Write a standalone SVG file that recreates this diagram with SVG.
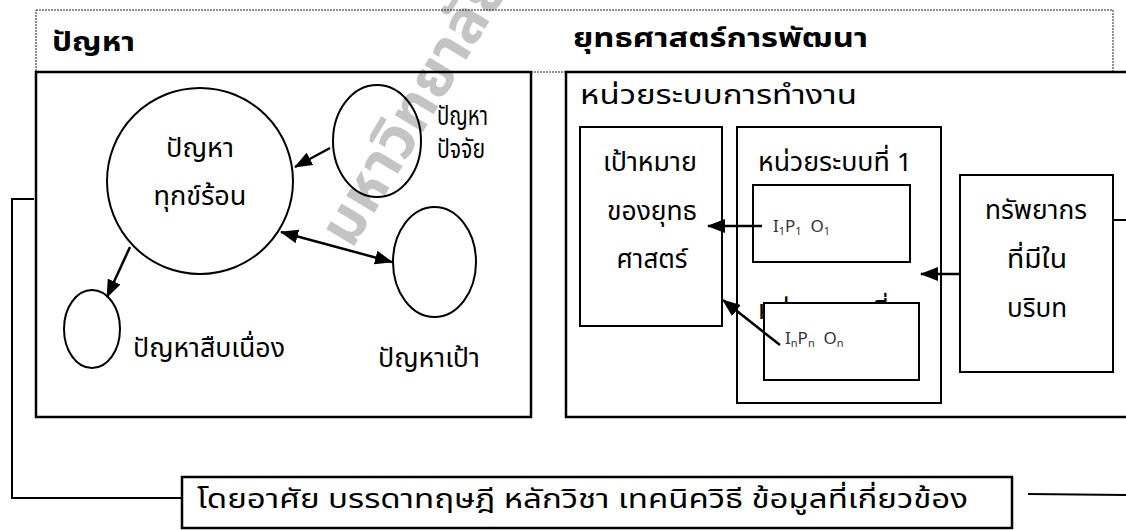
<svg xmlns="http://www.w3.org/2000/svg" width="1126" height="530" viewBox="0 0 1126 530">
<style>
text{font-family:'Noto Sans Thai','Noto Sans','DejaVu Sans',sans-serif;fill:#000}
.t{font-size:26px}
.b{font-size:27px;font-weight:bold}
.s{font-size:17px;fill:#333}
.sub{font-size:11px}
.box{fill:none;stroke:#000;stroke-width:2.5}
.ib{fill:none;stroke:#000;stroke-width:2}
.wb{fill:#fff;stroke:#000;stroke-width:2}
.el{fill:none;stroke:#000;stroke-width:2}
.ln{fill:none;stroke:#000;stroke-width:2}
.ar{fill:none;stroke:#000;stroke-width:2.5}
.wm{font-size:60px;font-weight:bold;fill:#c4c4c4}
</style>
<defs>
<marker id="ah" markerWidth="18" markerHeight="14" refX="17" refY="7" orient="auto" markerUnits="userSpaceOnUse"><path d="M0,0 L18,7 L0,14 Z" fill="#000"/></marker>
<marker id="as" markerWidth="18" markerHeight="14" refX="1" refY="7" orient="auto" markerUnits="userSpaceOnUse"><path d="M18,0 L0,7 L18,14 Z" fill="#000"/></marker>
</defs>
<rect width="1126" height="530" fill="#fff"/>
<text class="wm" transform="translate(352,250) rotate(-59)">มหาวิทยาลัย</text>

<g id="header">
<rect x="36" y="10" width="1077" height="62" fill="none" stroke="#222" stroke-width="1" stroke-dasharray="2 1"/>
<text class="b" x="52" y="51" textLength="83" lengthAdjust="spacingAndGlyphs">ปัญหา</text>
<text class="b" x="573" y="47" textLength="295" lengthAdjust="spacingAndGlyphs">ยุทธศาสตร์การพัฒนา</text>
</g>

<g id="problem-panel">
<rect class="box" x="36" y="72" width="495" height="345"/>
</g>
<g id="problem-core">
<circle class="el" cx="200" cy="181" r="93"/>
<text class="t" x="200" y="157" text-anchor="middle" textLength="68" lengthAdjust="spacingAndGlyphs">ปัญหา</text>
<text class="t" x="200" y="205" text-anchor="middle" textLength="93" lengthAdjust="spacingAndGlyphs">ทุกข์ร้อน</text>
</g>
<g id="problem-factor">
<ellipse class="el" cx="377" cy="141" rx="44" ry="56"/>
<text class="t" x="437" y="125" textLength="51" lengthAdjust="spacingAndGlyphs">ปัญหา</text>
<text class="t" x="437" y="158" textLength="48" lengthAdjust="spacingAndGlyphs">ปัจจัย</text>
</g>
<g id="problem-target">
<ellipse class="el" cx="434.5" cy="262" rx="41.5" ry="55"/>
<text class="t" x="378" y="367" textLength="102" lengthAdjust="spacingAndGlyphs">ปัญหาเป้า</text>
</g>
<g id="problem-continuing">
<ellipse class="el" cx="92" cy="329" rx="28" ry="39"/>
<text class="t" x="133" y="357" textLength="152" lengthAdjust="spacingAndGlyphs">ปัญหาสืบเนื่อง</text>
</g>

<g id="strategy-panel">
<rect class="box" x="566" y="72" width="570" height="345"/>
<text class="t" x="580" y="104" textLength="277" lengthAdjust="spacingAndGlyphs">หน่วยระบบการทำงาน</text>
</g>
<g id="goal">
<rect class="ib" x="580" y="127" width="142" height="199"/>
<text class="t" x="650" y="171" text-anchor="middle" textLength="94" lengthAdjust="spacingAndGlyphs">เป้าหมาย</text>
<text class="t" x="652" y="220" text-anchor="middle" textLength="90" lengthAdjust="spacingAndGlyphs">ของยุทธ</text>
<text class="t" x="652" y="268" text-anchor="middle" textLength="71" lengthAdjust="spacingAndGlyphs">ศาสตร์</text>
</g>
<g id="system-units">
<rect class="ib" x="737" y="127" width="204" height="276"/>
<text class="t" x="758" y="171" textLength="154" lengthAdjust="spacingAndGlyphs">หน่วยระบบที่ 1</text>
<text class="t" x="758" y="319" textLength="154" lengthAdjust="spacingAndGlyphs">หน่วยระบบที่ n</text>
</g>
<g id="unit-1">
<rect class="ib" x="753" y="185" width="157" height="77"/>
<text class="s" x="773" y="232">I<tspan class="sub" dy="3">1</tspan><tspan dy="-3">P</tspan><tspan class="sub" dy="3">1</tspan><tspan dy="-3" xml:space="preserve">  O</tspan><tspan class="sub" dy="3">1</tspan></text>
</g>
<g id="unit-n">
<rect class="wb" x="764" y="303" width="155" height="77"/>
<text class="s" x="785" y="344">I<tspan class="sub" dy="3">n</tspan><tspan dy="-3">P</tspan><tspan class="sub" dy="3">n</tspan><tspan dy="-3" xml:space="preserve">  O</tspan><tspan class="sub" dy="3">n</tspan></text>
</g>
<g id="resources">
<rect class="ib" x="960" y="175" width="153" height="197"/>
<text class="t" x="1036" y="219" text-anchor="middle" textLength="102" lengthAdjust="spacingAndGlyphs">ทรัพยากร</text>
<text class="t" x="1037" y="268" text-anchor="middle" textLength="60" lengthAdjust="spacingAndGlyphs">ที่มีใน</text>
<text class="t" x="1037" y="317" text-anchor="middle" textLength="60" lengthAdjust="spacingAndGlyphs">บริบท</text>
</g>
<g id="knowledge">
<rect class="box" x="182" y="477" width="830" height="51"/>
<text class="t" x="197" y="508" font-size="27" textLength="771" lengthAdjust="spacingAndGlyphs">โดยอาศัย บรรดาทฤษฎี หลักวิชา เทคนิควิธี ข้อมูลที่เกี่ยวข้อง</text>
</g>

<g id="connectors">
<path class="ar" d="M330,148 L295,167" marker-end="url(#ah)"/>
<path class="ar" d="M281,232 L392,262" marker-start="url(#as)" marker-end="url(#ah)"/>
<path class="ar" d="M130,247 L107,297" marker-end="url(#ah)"/>
<path class="ar" d="M762,226 L708,226" marker-end="url(#ah)"/>
<path class="ar" d="M780,345 L723,300" marker-end="url(#ah)"/>
<path class="ar" d="M960,274 L921,274" marker-end="url(#ah)"/>
<path class="ln" d="M34,199 L12,199 L12,498 L182,498"/>
<path class="ln" d="M1113,220 L1126,220"/>
<path class="ln" d="M1028,494 L1126,495"/>
</g>
</svg>
